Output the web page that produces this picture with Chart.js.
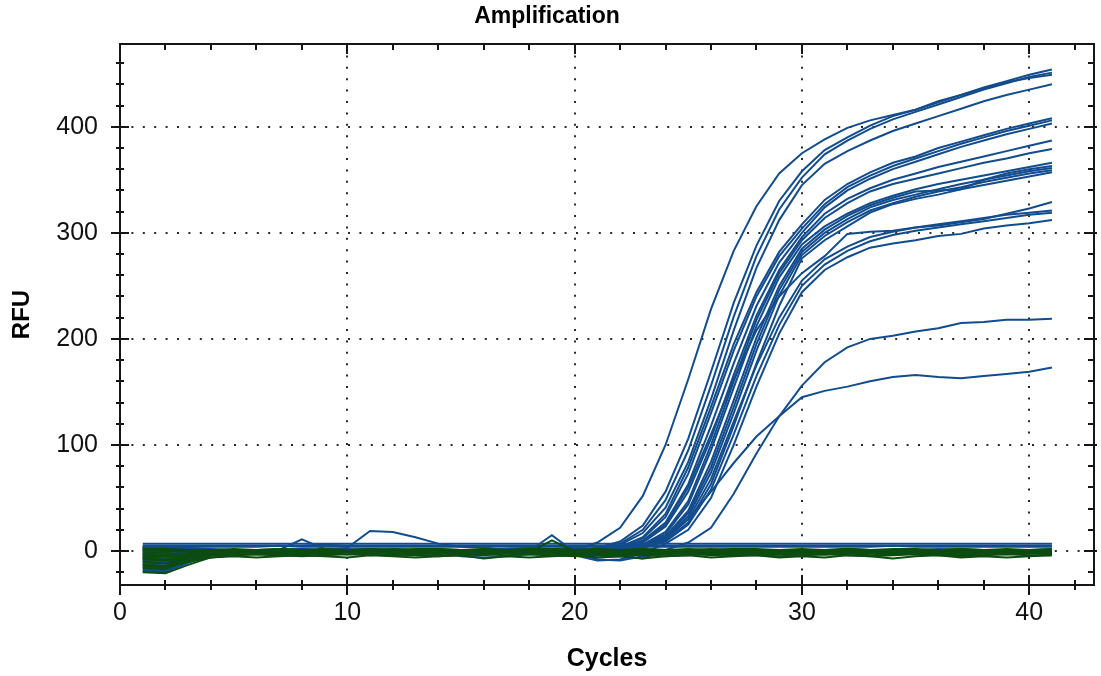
<!DOCTYPE html>
<html>
<head>
<meta charset="utf-8">
<title>Amplification</title>
<script src="https://cdn.jsdelivr.net/npm/chart.js@4.4.1/dist/chart.umd.min.js"></script>
<style>
  html, body { margin: 0; padding: 0; background: #fff; }
  canvas { display: block; }
</style>
</head>
<body>
<canvas id="ampChart" width="1101" height="676"></canvas>
<script>
// cycle numbers (x values)
const cycles = [1,2,3,4,5,6,7,8,9,10,11,12,13,14,15,16,17,18,19,20,21,22,23,24,25,26,27,28,29,30,31,32,33,34,35,36,37,38,39,40,41]

// axis tick labels
const xTickValues = [0, 10, 20, 30, 40]
const yTickValues = [0, 100, 200, 300, 400]

// amplified wells (blue), RFU per cycle
const wellT1 = [-12,-14,-6,-2,1,0,1,2,0,1,2,1,0,1,0,-1,0,1,0,1,8,22,52,100,162,228,283,325,356,375,388,399,406,411,416,423,430,436,442,446,449]
const wellT2 = [-8,-9,-4,-1,0,1,0,1,2,0,1,0,-1,0,1,0,0,1,2,0,3,9,24,56,106,169,234,288,330,358,378,390,401,410,416,424,430,437,443,449,454]
const wellT3 = [2,1,0,1,0,-1,0,1,0,1,0,2,1,0,-1,0,1,0,1,0,3,7,20,48,95,156,221,278,322,352,374,387,398,407,414,421,428,435,441,447,451]
const wellT4 = [-18,-19,-10,-4,-1,0,1,0,1,0,0,1,1,0,0,-1,0,0,1,-1,2,6,17,41,84,143,208,267,312,345,365,377,387,396,403,410,417,424,430,435,440]
const wellM1 = [-5,-6,-3,-1,0,1,1,0,0,2,1,0,0,1,0,0,-1,0,0,1,1,4,13,35,79,136,195,244,282,308,331,346,357,366,372,380,386,392,398,403,408]
const wellM2 = [4,4,3,2,1,1,0,1,1,0,1,1,0,0,1,1,0,1,0,0,0,4,12,32,73,130,189,240,278,304,327,343,354,363,370,377,384,390,396,401,406]
const wellM3 = [-15,-16,-8,-3,-1,0,0,1,0,0,1,0,1,0,0,0,1,0,1,-2,-1,3,10,27,63,118,177,231,272,300,324,340,351,360,367,374,381,387,393,398,403]
const wellM4 = [-3,-4,-2,-1,0,0,1,0,1,1,0,0,1,0,1,0,0,-1,0,-1,0,2,8,23,56,106,166,222,265,296,318,332,342,350,356,362,367,372,377,382,387]
const wellM5 = [0,-1,0,1,0,0,-1,0,1,0,0,1,0,-1,0,0,1,0,0,0,-1,2,6,18,47,100,160,218,262,293,314,328,339,346,351,356,361,366,370,375,379]
const wellM6 = [-10,-11,-5,-2,0,0,1,1,0,1,0,0,-1,0,0,1,0,0,-1,0,0,1,5,16,44,95,154,212,258,289,306,318,328,335,341,346,350,354,358,362,366]
const wellM7 = [-6,-7,-3,-1,0,1,0,0,1,0,1,1,0,1,0,0,0,1,0,0,-2,1,5,14,38,84,142,201,250,285,303,316,326,333,339,340,341,350,356,360,363]
const wellM8 = [1,0,1,0,1,0,0,1,0,0,-1,0,1,0,0,1,0,0,1,0,-2,0,4,13,36,79,136,195,246,282,300,313,324,331,336,341,346,350,354,358,361]
const wellM9 = [-17,-18,-9,-4,-1,0,0,0,1,0,0,1,0,0,1,0,-1,0,0,1,-3,-1,4,12,33,74,130,189,241,279,297,310,321,328,334,339,343,348,352,356,359]
const wellM10 = [-2,-3,-1,0,0,-1,0,1,0,0,1,0,0,1,0,0,1,0,0,-1,-4,-2,3,10,27,63,118,177,231,276,293,306,319,327,332,336,341,345,349,353,357]
const wellP1 = [-9,-10,-5,-2,-1,0,1,0,0,1,0,0,1,0,1,0,0,1,0,0,1,3,9,25,60,110,162,208,240,262,278,299,301,302,305,307,310,313,318,323,329]
const wellP2 = [3,3,2,1,1,0,0,1,0,1,0,0,1,0,0,1,0,0,0,1,-1,0,4,11,30,68,122,175,220,255,275,287,296,301,305,308,311,314,317,319,321]
const wellP3 = [-13,-14,-7,-3,-1,0,0,1,0,1,1,0,0,1,0,0,0,1,0,-1,-3,-2,3,9,25,58,110,165,213,250,270,283,292,298,302,305,308,311,314,317,319]
const wellP4 = [-4,-5,-2,-1,0,0,1,0,0,0,1,0,0,0,1,0,0,0,-1,-4,-9,-8,-2,7,20,50,100,155,205,244,265,277,286,290,293,297,299,304,307,309,312]
const wellL1 = [-6,-7,-3,-1,0,1,0,0,1,0,0,1,0,0,0,1,0,0,1,-1,-3,-5,-7,1,8,22,54,92,127,156,178,192,200,203,207,210,215,216,218,218,219]
const wellL2 = [-11,-12,-6,-2,0,0,1,0,0,1,0,0,0,1,0,0,1,0,0,0,0,2,6,14,30,56,83,108,127,145,151,155,160,164,166,164,163,165,167,169,173]

// non-amplified wells (blue)
const flatB1 = [7,7,7,7,7,7,7,7,7,7,7,7,7,7,7,7,7,7,7,7,7,7,7,7,7,7,7,7,7,7,7,7,7,7,7,7,7,7,7,7,7]
const flatB2 = [5,5,5,5,5,5,5,5,6,5,5,5,5,5,5,5,5,5,5,5,5,5,5,5,5,5,5,5,5,5,5,5,5,5,5,5,5,5,5,5,5]
const flatB3 = [4,4,4,4,4,4,5,4,4,4,4,4,4,4,4,5,4,4,4,4,4,4,4,4,4,4,4,4,4,4,4,4,4,5,4,4,4,4,4,4,4]
const noiseB1 = [-19,-20,-11,-4,-1,0,1,11,2,1,2,1,0,-1,-5,-6,-5,-3,-1,-4,-6,-5,-3,-2,-1,0,-1,-2,-3,-1,0,-1,-2,-1,0,-1,-2,-1,-2,-1,-1]
const noiseB2 = [3,2,1,0,1,0,1,2,1,3,19,18,13,7,4,3,2,3,2,3,2,1,2,1,0,1,2,1,0,1,1,2,1,0,1,2,1,1,0,1,2]
const noiseB3 = [-2,-3,-2,-1,0,1,0,1,0,-1,0,1,0,0,1,0,-1,0,15,-1,-8,-9,-5,-2,-1,0,-1,-2,-3,-1,0,-1,-2,-1,0,-1,-3,-1,-2,-1,0]

// non-amplified wells (green)
const negG1 = [-20,-21,-13,-6,-4,-3,-2,-2,-3,-1,-2,-1,-2,-3,-1,-2,-2,-1,-2,-2,-3,-2,-1,-2,-3,-2,-3,-2,-1,-2,-3,-2,-2,-1,-2,-3,-2,-2,-1,-2,-2]
const negG2 = [-16,-17,-9,-4,-2,-1,0,-1,0,1,0,1,0,-1,0,1,0,-1,10,0,-1,-2,-1,0,1,0,-1,0,-1,0,1,0,-1,-2,0,1,0,-1,0,1,0]
const negG3 = [-4,-3,-2,-1,-1,0,-1,-2,-1,0,-1,-1,0,-2,-3,-2,-1,-2,-1,-2,-1,-3,-2,-1,-2,-3,-1,-2,-1,-2,-3,-2,-1,-2,-3,-2,-1,-2,-2,-1,-2]
const negG4 = [-10,-12,-6,-3,-2,-2,-3,-2,-1,-1,-2,-1,-2,-1,-1,-2,-1,-1,0,-1,-2,-1,-1,0,-1,0,-1,-2,-1,0,-1,-1,-2,-1,0,-1,-2,-1,-1,0,-1]
const negG5 = [0,1,0,-1,0,1,0,0,1,0,1,0,1,2,1,0,1,0,1,0,1,0,1,0,0,1,0,1,0,1,0,1,0,0,1,0,1,0,1,0,1]
const negG6 = [-7,-8,-4,-2,-1,-1,0,-1,-1,0,0,-1,0,0,-1,0,-1,-1,0,0,-1,0,-1,-1,0,-1,0,-1,-1,0,-1,-1,0,-1,-1,0,-1,0,-1,-1,0]
const negG7 = [-13,-14,-7,-3,-1,-1,-2,-1,-2,-1,-1,-2,-1,-1,-3,-1,-2,-1,-1,-2,-1,-2,-2,-1,-2,-1,-2,-3,-2,-1,-2,-2,-1,-3,-2,-1,-2,-2,-1,-2,-1]
const negG8 = [2,2,1,1,0,1,2,1,0,1,1,2,1,0,1,1,0,1,2,1,0,1,1,0,1,2,1,0,1,1,0,2,1,1,0,1,2,1,0,1,1]
const negG9 = [-8,-9,-6,-4,-4,-3,-4,-5,-4,-3,-4,-3,-4,-5,-4,-3,-4,-3,-4,-5,-4,-3,-4,-5,-4,-3,-4,-4,-5,-4,-3,-4,-5,-4,-3,-4,-5,-4,-3,-4,-4]
const negG10 = [-2,-1,0,1,2,1,2,1,2,1,2,1,2,2,1,2,1,2,2,1,2,1,2,1,2,1,2,2,1,2,1,2,1,2,2,1,2,1,2,1,2]
const negG11 = [-14,-15,-10,-6,-5,-6,-5,-4,-5,-6,-4,-5,-6,-5,-4,-7,-5,-6,-5,-4,-6,-5,-7,-5,-4,-6,-5,-4,-6,-5,-6,-4,-5,-7,-5,-4,-6,-5,-6,-5,-4]
const negG12 = [-6,-5,-4,-3,-2,-3,-4,-3,-2,-3,-2,-4,-3,-2,-3,-4,-2,-3,-4,-3,-2,-4,-3,-3,-2,-4,-3,-2,-3,-4,-3,-2,-4,-3,-2,-3,-4,-3,-3,-2,-3]

const BLUE = '#124c8c'
const GREEN = '#0d4c10'

const greenWells = [negG1, negG2, negG3, negG4, negG5, negG6, negG7, negG8, negG9, negG10, negG11, negG12]
const blueWells = [flatB1, flatB2, flatB3, noiseB1, noiseB2, noiseB3,
    wellL2, wellL1, wellP4, wellP3, wellP2, wellP1, wellM10, wellM9, wellM8, wellM7, wellM6,
    wellM5, wellM4, wellM3, wellM2, wellM1, wellT4, wellT3, wellT2, wellT1]

const toPoints = ( vals ) => vals.map( ( v, i ) => ({ x: cycles[i], y: v }) )
const makeSet = ( vals, color ) => ({
    data: toPoints( vals ),
    borderColor: color,
    borderWidth: 2,
    pointRadius: 0,
    tension: 0,
    fill: false
})

// green first so it sits on top of the blue baseline band
const datasets = [
    ...greenWells.map( (w) => makeSet( w, GREEN ) ),
    ...blueWells.map( (w) => makeSet( w, BLUE ) )
]

//--AXIS FRAME WITH TICKS ON ALL FOUR SIDES
const frame = {
    id: 'frame',
    afterDraw( chart ) {
        const { ctx, chartArea: a, scales: { x, y } } = chart
        ctx.save()
        ctx.strokeStyle = '#161616'
        ctx.lineWidth = 2
        ctx.strokeRect( a.left, a.top, a.right - a.left, a.bottom - a.top )
        ctx.beginPath()
        for ( let v = 0; v <= 42; v += 2 ) {
            const px = Math.round( x.getPixelForValue( v ) )
            const major = v % 10 === 0
            const out = major ? 10 : 5
            ctx.moveTo( px, a.bottom - out )
            ctx.lineTo( px, a.bottom + out )
            ctx.moveTo( px, a.top )
            ctx.lineTo( px, a.top + ( major ? 10 : 6 ) )
        }
        for ( let v = -20; v <= 460; v += 20 ) {
            const py = Math.round( y.getPixelForValue( v ) )
            const major = v % 100 === 0
            const out = major ? 9 : 4
            ctx.moveTo( a.left - out, py )
            ctx.lineTo( a.left + out, py )
            ctx.moveTo( a.right - ( major ? 10 : 6 ), py )
            ctx.lineTo( a.right + ( major ? 3 : 0 ), py )
        }
        ctx.stroke()
        ctx.restore()
    }
}

Chart.defaults.font.family = "'Liberation Sans', Arial, sans-serif"
Chart.defaults.color = '#111'

const ctx = document.getElementById('ampChart')
const myChart = new Chart(ctx, {
    type: 'line',
    data: { datasets },
    plugins: [ frame ],
    options: {
        responsive: false,
        animation: false,
        devicePixelRatio: 1,
        layout: { padding: { left: 0, right: 7, top: 0, bottom: 0 } },
        plugins: {
            legend: { display: false },
            tooltip: { enabled: false },
            title: {
                display: true,
                text: 'Amplification',
                color: '#000',
                font: { size: 23, weight: 'bold' },
                padding: { top: 3, bottom: 13.4 }
            }
        },
        scales: {
            x: {
                type: 'linear',
                min: 0,
                max: 42.85,
                afterBuildTicks: ( s ) => { s.ticks = xTickValues.map( (v) => ({ value: v }) ) },
                afterFit: ( s ) => { s.height = 91 },
                ticks: {
                    font: { size: 25 },
                    color: '#111',
                    padding: 13,
                    maxRotation: 0,
                    autoSkip: false,
                    callback: ( v ) => String( v )
                },
                grid: {
                    color: ( c ) => c.tick && c.tick.value === 0 ? 'rgba(0,0,0,0)' : '#2a2a2a',
                    lineWidth: 2,
                    drawTicks: false
                },
                border: { display: false, dash: [ 2, 9.4 ] },
                title: {
                    display: true,
                    text: 'Cycles',
                    color: '#000',
                    font: { size: 25, weight: 'bold' },
                    padding: { top: 0, bottom: 2 }
                }
            },
            y: {
                type: 'linear',
                min: -32,
                max: 478,
                afterBuildTicks: ( s ) => { s.ticks = yTickValues.map( (v) => ({ value: v }) ) },
                afterFit: ( s ) => { s.width = 120 },
                ticks: {
                    font: { size: 25 },
                    color: '#111',
                    padding: 22,
                    autoSkip: false,
                    callback: ( v ) => String( v )
                },
                grid: {
                    color: '#2a2a2a',
                    lineWidth: 2,
                    drawTicks: false
                },
                border: { display: false, dash: [ 2, 9.4 ] },
                title: {
                    display: true,
                    text: 'RFU',
                    color: '#000',
                    font: { size: 24, weight: 'bold' },
                    padding: { top: 8, bottom: 0 }
                }
            }
        }
    }
});
</script>
</body>
</html>
